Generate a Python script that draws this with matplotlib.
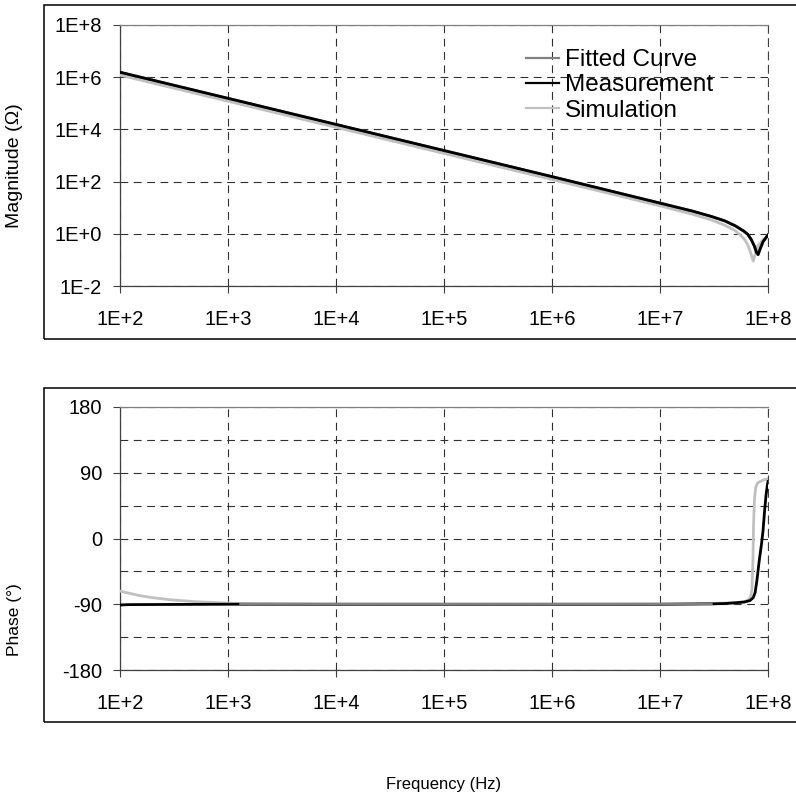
import numpy as np
import matplotlib
matplotlib.use("Agg")
import matplotlib.pyplot as plt
from matplotlib.patches import Rectangle
from matplotlib.ticker import NullLocator

plt.rcParams['font.family'] = ['Liberation Sans', 'DejaVu Sans']
plt.rcParams['axes.unicode_minus'] = False

# magnitude data (Hz, Ohm)
f_meas = [1e2, 1e3, 1e4, 1e5, 1e6, 1e7, 2e7, 3e7, 4e7, 5e7, 6e7, 6.5e7, 7e7,
          7.5e7, 7.8e7, 8.1e7, 8.5e7, 9e7, 1e8]
mag_meas = [1.55e6, 1.55e5, 1.55e4, 1550, 155, 15.0, 7.4, 4.6, 3.1, 2.0, 1.25,
            0.95, 0.6, 0.33, 0.2, 0.16, 0.28, 0.5, 0.9]
f_sim = [1e2, 1e3, 1e4, 1e5, 1e6, 1e7, 2e7, 3e7, 4e7, 5e7, 6e7, 6.5e7, 7e7,
         7.3e7, 7.6e7, 8e7, 9e7, 1e8]
mag_sim = [1.2e6, 1.2e5, 1.2e4, 1200, 120, 11.8, 5.6, 3.4, 2.1, 1.3, 0.65,
           0.38, 0.16, 0.09, 0.16, 0.33, 0.6, 0.85]
f_fit = f_meas
mag_fit = mag_meas

# phase data (deg)
fp_meas = [1e2, 1.2e2, 1e3, 1e4, 1e5, 1e6, 1e7, 3e7, 4e7, 5e7, 6e7, 6.8e7,
           7.3e7, 7.6e7, 7.9e7, 8.3e7, 8.7e7, 9e7, 9.3e7, 9.6e7, 9.8e7, 1e8]
ph_meas = [-91, -90.5, -90, -90, -90, -90, -90, -89.5, -89, -88, -87, -85,
           -81, -74, -57, -30, -8, 11, 38, 60, 70, 78]
fp_sim = [1e2, 1.5e2, 2e2, 3e2, 5e2, 1e3, 2e3, 1e4, 1e5, 1e6, 1e7, 3e7, 5e7,
          6e7, 6.6e7, 6.9e7, 7.1e7, 7.25e7, 7.35e7, 7.5e7, 7.7e7, 8e7, 9e7, 1e8]
ph_sim = [-72, -78, -81, -84, -86.5, -88.5, -89.3, -89.8, -90, -90, -89.7,
          -89, -88, -86.5, -84, -80, -70, -30, 20, 55, 70, 76, 80, 82]
fp_fit = [1.3e3, 1e4, 1e5, 1e6, 1e7, 3e7]
ph_fit = [-89.8, -89.8, -89.8, -89.8, -89.8, -89.6]

x_ticks = [1e2, 1e3, 1e4, 1e5, 1e6, 1e7, 1e8]
x_labels = ['1E+2', '1E+3', '1E+4', '1E+5', '1E+6', '1E+7', '1E+8']
mag_ticks = [1e-2, 1e0, 1e2, 1e4, 1e6, 1e8]
mag_labels = ['1E-2', '1E+0', '1E+2', '1E+4', '1E+6', '1E+8']
ph_ticks = [-180, -90, 0, 90, 180]
ph_grid = [-135, -45, 45, 135]

W, H = 796, 802
fig = plt.figure(figsize=(W / 100, H / 100), dpi=100)

# outer chart frames
for top, bot in [(5, 339), (388, 722)]:
    fig.patches.append(Rectangle((44 / W, 1 - bot / H), 1.0, (bot - top) / H,
                                 transform=fig.transFigure, fill=False,
                                 ec='black', lw=1.1))

ax1 = fig.add_axes([120 / W, 1 - 286 / H, 648 / W, 261 / H])
ax2 = fig.add_axes([120 / W, 1 - 670 / H, 648 / W, 263 / H])

c_fit, c_meas, c_sim = '#808080', '#000000', '#c0c0c0'

ax1.plot(f_sim, mag_sim, color=c_sim, lw=2.0, zorder=3)
ax1.plot(f_fit, mag_fit, color=c_fit, lw=2.0, zorder=4)
ax1.plot(f_meas, mag_meas, color=c_meas, lw=2.0, zorder=5)

ax2.plot(fp_sim, ph_sim, color=c_sim, lw=2.0, zorder=3)
ax2.plot(fp_meas, ph_meas, color=c_meas, lw=2.0, zorder=4)
ax2.plot(fp_fit, ph_fit, color=c_fit, lw=1.6, zorder=5)

ax1.set_yscale('log')
ax1.set_ylim(1e-2, 1e8)
ax1.set_yticks(mag_ticks)
ax1.set_yticklabels(mag_labels)
ax2.set_ylim(-180, 180)
ax2.set_yticks(ph_ticks)
ax2.set_yticks(ph_grid, minor=True)

for ax in (ax1, ax2):
    ax.set_xscale('log')
    ax.set_xlim(1e2, 1e8)
    ax.set_xticks(x_ticks)
    ax.set_xticklabels(x_labels)
    ax.xaxis.set_minor_locator(NullLocator())
    if ax is ax1:
        ax.yaxis.set_minor_locator(NullLocator())
    ax.grid(True, which='both', color='#303030', lw=0.8, ls=(0, (7, 5)))
    ax.tick_params(which='major', direction='out', length=5, width=0.8,
                   color='#404040', labelsize=14.5)
    ax.tick_params(axis='y', which='major', pad=8)
    ax.tick_params(axis='x', which='major', pad=12)
    ax.tick_params(which='minor', length=0)
    for s in ('left', 'bottom'):
        ax.spines[s].set_color('#404040')
        ax.spines[s].set_linewidth(0.9)
    ax.spines['top'].set_color('#808080')
    ax.spines['top'].set_linewidth(0.9)
    ax.spines['right'].set_color('#404040')
    ax.spines['right'].set_linewidth(0.8)
    ax.spines['right'].set_linestyle((0, (7, 5)))

fig.text(15 / W, 1 - 166 / H, 'Magnitude (\u03a9)', rotation=90,
         ha='center', va='center', fontsize=14)
fig.text(15 / W, 1 - 620 / H, 'Phase (\u00b0)', rotation=90,
         ha='center', va='center', fontsize=12.5)
fig.text(444 / W, 1 - 785 / H, 'Frequency (Hz)', ha='center', va='center',
         fontsize=12)

h_fit, = ax1.plot([], [], color=c_fit, lw=1.6)
h_meas, = ax1.plot([], [], color=c_meas, lw=1.6)
h_sim, = ax1.plot([], [], color=c_sim, lw=1.6)
ax1.legend([h_fit, h_meas, h_sim], ['Fitted Curve', 'Measurement', 'Simulation'],
           loc='upper left', bbox_to_anchor=(526 / W, 1 - 49 / H),
           bbox_transform=fig.transFigure, frameon=False, fontsize=17.5,
           handlelength=1.35, handletextpad=0.25, labelspacing=0.14,
           borderpad=0, borderaxespad=0)

fig.savefig('out.png', dpi=100)
